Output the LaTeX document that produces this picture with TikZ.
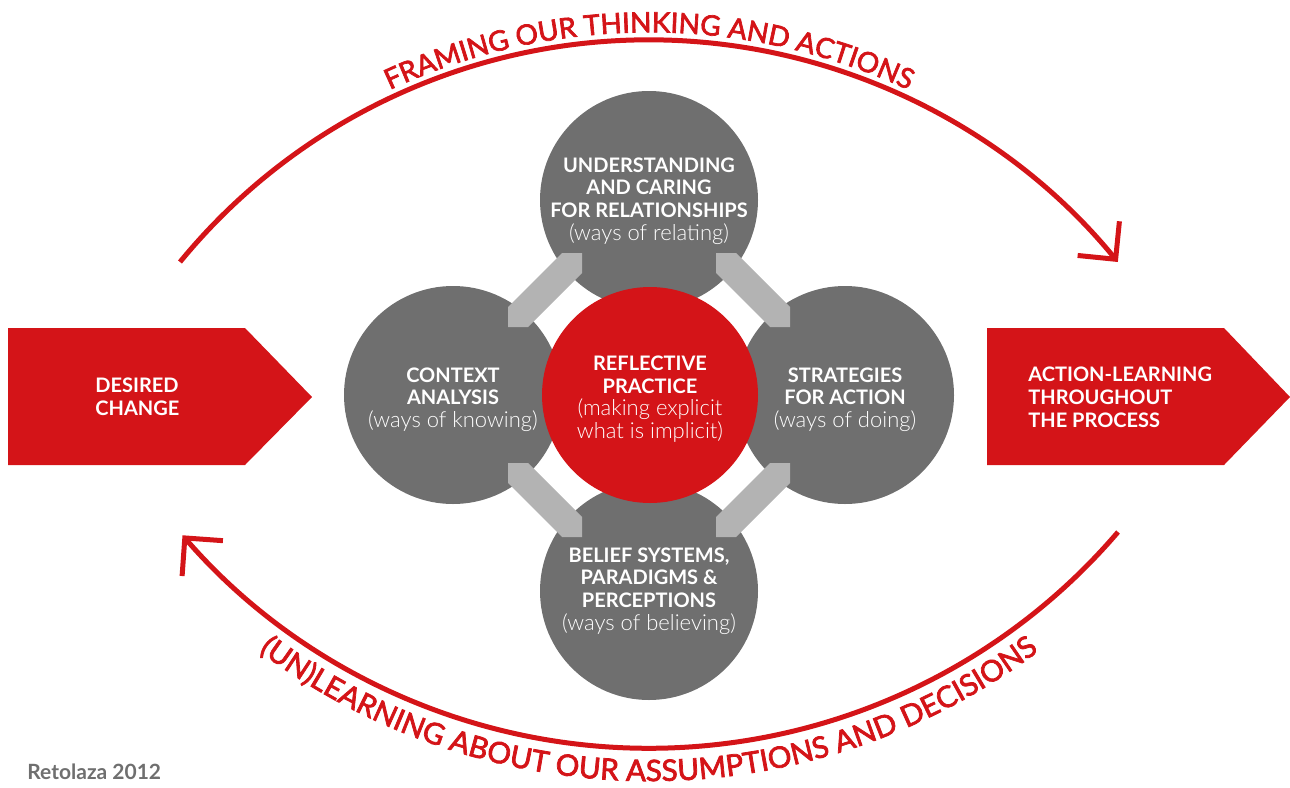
\documentclass[tikz,border=0pt]{standalone}
\usepackage{fontspec}
\setmainfont{Lato}
\newfontfamily\latolight{Lato Light}
\newfontfamily\latomed{Lato}[FakeBold=2.5]
\usetikzlibrary{arrows.meta,decorations.text}
\definecolor{rred}{HTML}{D41418}
\definecolor{dgrey}{HTML}{6F6F6F}
\definecolor{lgrey}{HTML}{B3B3B3}
\newcommand{\lt}[1]{{\mdseries\latolight\fontsize{11}{11.3}\selectfont #1}}
\begin{document}
\begin{tikzpicture}[x=0.5pt,y=0.5pt,
  gcirc/.style={circle, fill=dgrey, minimum size=109pt, inner sep=0pt},
  rcirc/.style={circle, fill=rred, minimum size=108pt, inner sep=0pt},
  ctext/.style={inner sep=0pt, text=white, align=center,
    font=\fontsize{10}{11.3}\selectfont\bfseries},
  band/.style={fill=lgrey},
  bigarrow/.style={fill=rred},
  arrowtext/.style={inner sep=0pt, text=white, align=left, font=\fontsize{10}{11.5}\selectfont\bfseries},
  arcline/.style={draw=rred, line width=2.5pt},
  tip/.style={-{Straight Barb[length=13.5pt,width=27pt]}}
]
\useasboundingbox (0,0) rectangle (1290,-787);

% side arrows
\fill[bigarrow] (8,-328) -- (245,-328) -- (312,-397) -- (245,-465) -- (8,-465) -- cycle;
\fill[bigarrow] (987,-328) -- (1224,-328) -- (1290,-397) -- (1224,-465) -- (987,-465) -- cycle;
\node[arrowtext, anchor=west] (desired) at (95,-396.5) {DESIRED\\CHANGE};
\node[arrowtext, anchor=west] (action) at (1028,-397) {ACTION-LEARNING\\THROUGHOUT\\THE PROCESS};

% grey circles
\node[gcirc] (top) at (649,-200) {};
\node[gcirc] (left) at (453,-395) {};
\node[gcirc] (right) at (845,-395) {};
\node[gcirc] (bottom) at (649,-591) {};
\node[ctext] (toptext) at (649,-201) {UNDERSTANDING\\AND CARING\\FOR RELATIONSHIPS\\\lt{(ways of relating)}};
\node[ctext] (lefttext) at (453,-399.5) {CONTEXT\\ANALYSIS\\\lt{(ways of knowing)}};
\node[ctext] (righttext) at (845,-399.5) {STRATEGIES\\FOR ACTION\\\lt{(ways of doing)}};
\node[ctext] (bottomtext) at (649,-591) {BELIEF SYSTEMS,\\PARADIGMS \&\\PERCEPTIONS\\\lt{(ways of believing)}};

% connecting bands
\fill[band] (562,-253) -- (582,-253) -- (582,-273) -- (528,-327) -- (508,-327) -- (508,-307) -- cycle;
\fill[band] (716,-253) -- (736,-253) -- (790,-307) -- (790,-327) -- (770,-327) -- (716,-273) -- cycle;
\fill[band] (508,-463) -- (528,-463) -- (582,-517) -- (582,-537) -- (562,-537) -- (508,-483) -- cycle;
\fill[band] (770,-463) -- (790,-463) -- (790,-483) -- (736,-537) -- (716,-537) -- (716,-517) -- cycle;

% centre
\node[rcirc] (centre) at (650,-395) {};
\node[ctext] (centretext) at (650,-399) {REFLECTIVE\\PRACTICE\\\lt{(making explicit}\\\lt{what is implicit)}};

% arcs
\coordinate (tl) at (180,-262);
\coordinate (br) at (1118,-532);
\coordinate (topc) at (649,-646);
\coordinate (botc) at (649,-131);
\draw[arcline, tip] (tl) arc[start angle=140.7, end angle=39.3, radius=303pt];
\draw[arcline, tip] (br) arc[start angle=-40.5, end angle=-139.1, radius=308.5pt];

% curved labels
\path[decorate, decoration={text along path, text align=center,
  text={|\color{rred}\latomed\fontsize{14}{16}\selectfont|FRAMING OUR THINKING AND ACTIONS}}]
  (topc) ++(155:306.75pt) arc[start angle=155, end angle=25, radius=306.75pt];
\path[decorate, decoration={text along path, text align=center,
  text={|\color{rred}\latomed\fontsize{14.8}{16}\selectfont|(UN)LEARNING ABOUT OUR ASSUMPTIONS AND DECISIONS}}]
  (botc) ++(-150:325pt) arc[start angle=-150, end angle=-30, radius=325pt];

\node[anchor=west, inner sep=0pt, text=dgrey, font=\fontsize{10.5}{12}\selectfont\bfseries] (credit) at (27,-772) {Retolaza 2012};
\end{tikzpicture}
\end{document}
